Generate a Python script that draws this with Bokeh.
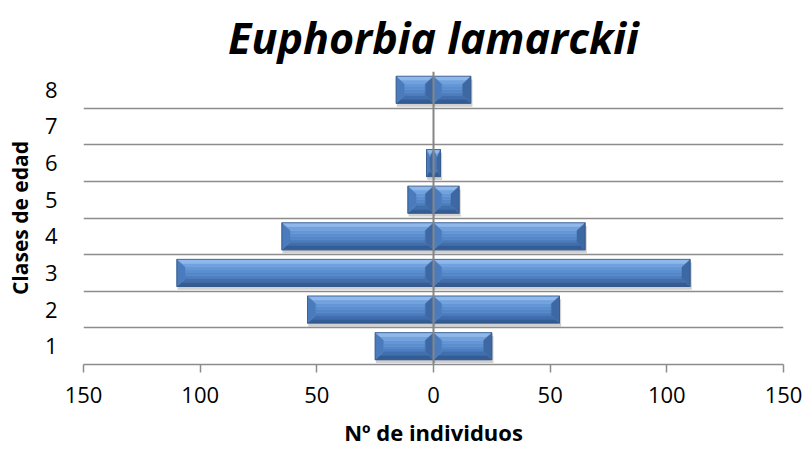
from bokeh.plotting import figure
from bokeh.models import ColumnDataSource, FixedTicker, Span
from bokeh.embed import file_html
from bokeh.resources import INLINE

# Age classes and number of individuals per class (mirrored on both sides)
clases = ["1", "2", "3", "4", "5", "6", "7", "8"]
individuos = [25, 54, 110, 65, 11, 3, 0, 16]
x_ticks = [-150, -100, -50, 0, 50, 100, 150]
x_tick_labels = ["150", "100", "50", "0", "50", "100", "150"]

FONT = "Open Sans"
BAR_H = 0.74          # bar thickness in category units
BEVEL_X = 3.5         # bevel width in x data units
BEVEL_Y = 0.21        # bevel height in category units

p = figure(width=806, height=450, x_range=(-150, 150), y_range=(0.5, 8.5),
           output_backend="svg", toolbar_location=None,
           min_border_left=83, min_border_right=23,
           min_border_top=69, min_border_bottom=86)
p.outline_line_color = None
p.background_fill_color = "white"

# --- bevelled bars -------------------------------------------------------
band = dict(xs=[], ys=[], color=[])
outline = dict(left=[], right=[], bottom=[], top=[])
shadow = dict(left=[], right=[], bottom=[], top=[])


def add_band(xs, ys, color):
    band["xs"].append(xs)
    band["ys"].append(ys)
    band["color"].append(color)


for i, v in enumerate(individuos):
    if v <= 0:
        continue
    yc = i + 1
    for sign in (-1, 1):
        x0, x1 = sorted((0, sign * v))
        y0, y1 = yc - BAR_H / 2, yc + BAR_H / 2
        bx = min(BEVEL_X, (x1 - x0) / 2)
        ty = BEVEL_Y
        shadow["left"].append(x0 + 0.3)
        shadow["right"].append(x1 + 0.7)
        shadow["bottom"].append(y0 - 0.09)
        shadow["top"].append(y1 - 0.09)
        outline["left"].append(x0)
        outline["right"].append(x1)
        outline["bottom"].append(y0)
        outline["top"].append(y1)
        # inner face with a soft vertical gradient
        fy0, fy1 = y0 + ty, y1 - ty
        steps = ["#4c7ec0", "#5487c9", "#5b8ecf", "#6396d6"]
        dh = (fy1 - fy0) / len(steps)
        for k, c in enumerate(steps):
            add_band([x0 + bx, x1 - bx, x1 - bx, x0 + bx],
                     [fy0 + k * dh, fy0 + k * dh, fy0 + (k + 1) * dh, fy0 + (k + 1) * dh], c)
        # top bevel (light), split in two tones
        mid = y1 - ty / 2
        add_band([x0 + bx / 2, x1 - bx / 2, x1 - bx, x0 + bx], [mid, mid, fy1, fy1], "#72a2de")
        add_band([x0, x1, x1 - bx / 2, x0 + bx / 2], [y1, y1, mid, mid], "#8fb8ec")
        # bottom bevel (dark)
        midb = y0 + ty / 2
        add_band([x0 + bx / 2, x1 - bx / 2, x1 - bx, x0 + bx], [midb, midb, fy0, fy0], "#416fae")
        add_band([x0, x1, x1 - bx / 2, x0 + bx / 2], [y0, y0, midb, midb], "#345c95")
        # side bevels
        add_band([x0, x0 + bx, x0 + bx, x0], [y0, fy0, fy1, y1], "#4a7bbd")
        add_band([x1, x1 - bx, x1 - bx, x1], [y0, fy0, fy1, y1], "#3d68a3")

p.quad(source=ColumnDataSource(shadow), left="left", right="right", bottom="bottom",
       top="top", fill_color="#000000", fill_alpha=0.18, line_color=None)
p.patches(source=ColumnDataSource(band), xs="xs", ys="ys", fill_color="color",
          line_color="color", line_width=0.5)
p.quad(source=ColumnDataSource(outline), left="left", right="right", bottom="bottom",
       top="top", fill_color=None, line_color="#2f5384", line_width=1, line_alpha=0.8)

# vertical axis line at zero, drawn over the bars
p.add_layout(Span(location=0, dimension="height", line_color="#868686", line_width=2))

# --- axes & grid ---------------------------------------------------------
grid_color = "#8c8c8c"
p.xgrid.visible = False
p.ygrid.ticker = FixedTicker(ticks=[k + 0.5 for k in range(1, len(clases) + 1)])
p.ygrid.grid_line_color = grid_color
p.ygrid.grid_line_width = 1.5

xa = p.xaxis[0]
xa.ticker = FixedTicker(ticks=x_ticks)
xa.major_label_overrides = {t: l for t, l in zip(x_ticks, x_tick_labels)}
xa.minor_tick_line_color = None
xa.major_tick_in = 0
xa.major_tick_out = 8
xa.major_tick_line_color = grid_color
xa.major_tick_line_width = 1.5
xa.axis_line_color = grid_color
xa.axis_line_width = 1.5
xa.major_label_standoff = 14
xa.major_label_text_font = FONT
xa.major_label_text_font_size = "22px"
xa.major_label_text_color = "black"
xa.axis_label = "Nº de individuos"
xa.axis_label_text_font = FONT
xa.axis_label_text_font_size = "22px"
xa.axis_label_text_font_style = "bold"
xa.axis_label_text_color = "black"
xa.axis_label_standoff = 11

ya = p.yaxis[0]
ya.ticker = FixedTicker(ticks=list(range(1, len(clases) + 1)))
ya.major_label_overrides = {k + 1: c for k, c in enumerate(clases)}
ya.axis_line_color = None
ya.major_tick_line_color = None
ya.minor_tick_line_color = None
ya.major_tick_in = 0
ya.major_tick_out = 0
ya.major_label_standoff = 26
ya.major_label_text_font = FONT
ya.major_label_text_font_size = "22px"
ya.major_label_text_color = "black"
ya.axis_label = "Clases de edad"
ya.axis_label_text_font = FONT
ya.axis_label_text_font_size = "21px"
ya.axis_label_text_font_style = "bold"
ya.axis_label_text_color = "black"
ya.axis_label_standoff = 8

p.title.text = "Euphorbia lamarckii"
p.title.text_font = FONT
p.title.text_font_size = "43px"
p.title.text_font_style = "bold italic"
p.title.text_color = "black"
p.title.align = "center"

open("out.html", "w").write(file_html(p, INLINE))
